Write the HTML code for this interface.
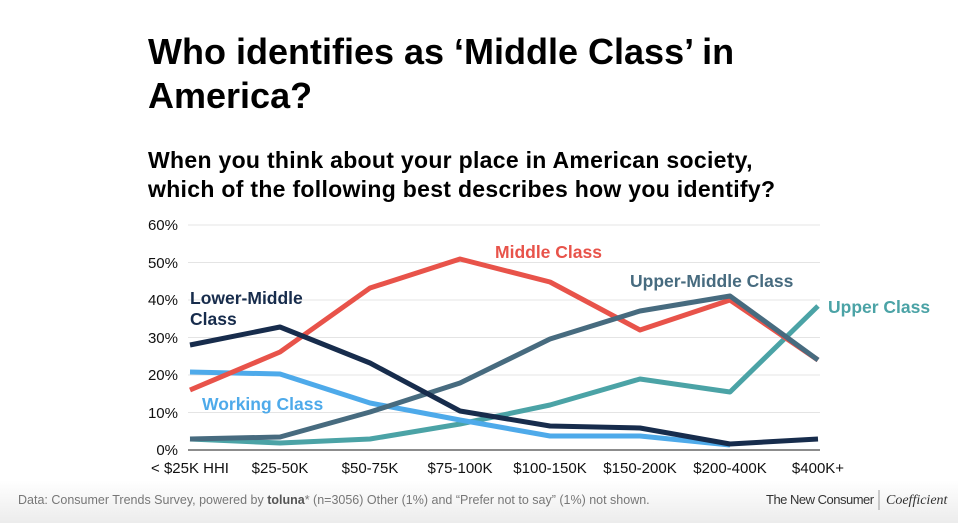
<!DOCTYPE html>
<html><head><style>
body{margin:0;width:958px;height:523px;background:#fff;overflow:hidden;font-family:"Liberation Sans",sans-serif;position:relative}
.t{position:absolute;left:148px;top:30px;font-size:36px;font-weight:bold;line-height:44px;color:#000;letter-spacing:0px}
.s{position:absolute;left:148px;top:146px;font-size:23px;font-weight:bold;line-height:29px;color:#000;letter-spacing:0.3px}
.f{position:absolute;left:0;top:480px;width:958px;height:43px;background:linear-gradient(#fff,#ececec)}
</style></head><body>
<div class="t">Who identifies as ‘Middle Class’ in<br>America?</div>
<div class="s">When you think about your place in American society,<br>which of the following best describes how you identify?</div>
<div class="f"></div>
<svg width="958" height="523" style="position:absolute;left:0;top:0" font-family="Liberation Sans, sans-serif">
<g stroke="#e4e4e4" stroke-width="1">
<line x1="188" x2="820" y1="225" y2="225"/><line x1="188" x2="820" y1="262.5" y2="262.5"/><line x1="188" x2="820" y1="300" y2="300"/><line x1="188" x2="820" y1="337.5" y2="337.5"/><line x1="188" x2="820" y1="375" y2="375"/><line x1="188" x2="820" y1="412.5" y2="412.5"/>
</g>
<line x1="188" x2="820" y1="450" y2="450" stroke="#666" stroke-width="1.5"/>
<g font-size="15" fill="#111" text-anchor="end">
<text x="178" y="230">60%</text><text x="178" y="268">50%</text><text x="178" y="305">40%</text><text x="178" y="343">30%</text><text x="178" y="380">20%</text><text x="178" y="418">10%</text><text x="178" y="455">0%</text>
</g>
<g font-size="15" fill="#111" text-anchor="middle">
<text x="190" y="473">&lt; $25K HHI</text><text x="280" y="473">$25-50K</text><text x="370" y="473">$50-75K</text><text x="460" y="473">$75-100K</text><text x="550" y="473">$100-150K</text><text x="640" y="473">$150-200K</text><text x="730" y="473">$200-400K</text><text x="818" y="473">$400K+</text>
</g>
<g fill="none" stroke-width="5" stroke-linejoin="round">
<polyline stroke="#4ba3a6" points="190,439 280,443 370,439 460,424 550,405 640,379 730,392 818,306"/>
<polyline stroke="#4eaaea" points="190,372 280,374 370,403 460,420 550,436 640,436 730,445"/>
<polyline stroke="#e8534a" points="190,390 280,352 370,288 460,259 550,282 640,330 730,300 818,360"/>
<polyline stroke="#476b7f" points="190,439 280,437 370,412 460,383 550,339 640,311 730,296 818,360"/>
<polyline stroke="#172c4c" points="190,345 280,327 370,363 460,411 550,426 640,428 730,444 818,439"/>
</g>
<g font-size="17.5" font-weight="bold">
<text x="495" y="258" fill="#e8534a">Middle Class</text>
<text x="630" y="287" fill="#476b7f">Upper-Middle Class</text>
<text x="828" y="313" fill="#4ba3a6">Upper Class</text>
<text x="190" y="304" fill="#172c4c">Lower-Middle</text>
<text x="190" y="325" fill="#172c4c">Class</text>
<text x="202" y="410" fill="#4eaaea">Working Class</text>
</g>
<text x="18" y="504" font-size="12.5" fill="#777">Data: Consumer Trends Survey, powered by <tspan font-weight="bold" fill="#555">toluna</tspan>*   (n=3056) Other (1%) and “Prefer not to say” (1%) not shown.</text>
<text x="766" y="504" font-size="13" fill="#333" letter-spacing="-0.5">The New Consumer</text>
<line x1="879" x2="879" y1="490" y2="510" stroke="#999"/>
<text x="886" y="504" font-size="14" font-style="italic" fill="#333" font-family="Liberation Serif, serif">Coefficient</text>
</svg>
</body></html>
